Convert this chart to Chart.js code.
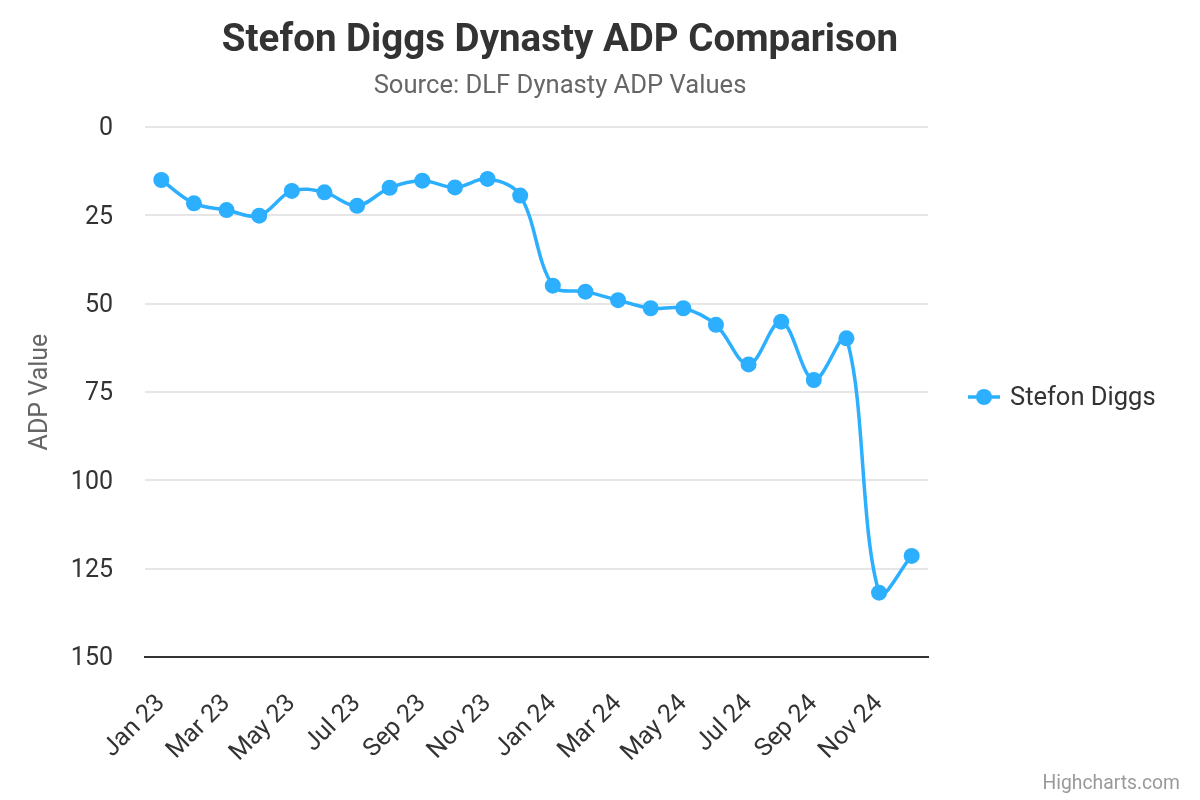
<!DOCTYPE html>
<html>
<head>
<meta charset="utf-8">
<script src="https://cdn.jsdelivr.net/npm/chart.js@4.4.1/dist/chart.umd.min.js"></script>
<style>
  html, body { margin: 0; padding: 0; background: #ffffff; }
  #wrap { width: 1200px; height: 800px; position: relative; }
</style>
</head>
<body>
<div id="wrap"><canvas id="c" width="1200" height="800"></canvas></div>
<script>
const titleText = "Stefon Diggs Dynasty ADP Comparison";
const subtitleText = "Source: DLF Dynasty ADP Values";
const yAxisTitle = "ADP Value";
const seriesName = "Stefon Diggs";
const creditsText = "Highcharts.com";

const categories = [
  "Jan 23","Feb 23","Mar 23","Apr 23","May 23","Jun 23","Jul 23","Aug 23","Sep 23","Oct 23","Nov 23","Dec 23",
  "Jan 24","Feb 24","Mar 24","Apr 24","May 24","Jun 24","Jul 24","Aug 24","Sep 24","Oct 24","Nov 24","Dec 24"
];
const adpValues = [
  15.0, 21.6, 23.5, 25.1, 18.1, 18.5, 22.3, 17.2, 15.2, 17.1, 14.7, 19.4,
  44.9, 46.6, 49.0, 51.3, 51.3, 56.0, 67.2, 55.1, 71.6, 59.8, 131.8, 121.4
];
const yTicks = [0, 25, 50, 75, 100, 125, 150];

const FONT = "Roboto, 'Noto Sans', sans-serif";
const BLUE = "#2caffe";

const decorPlugin = {
  id: 'decor',
  afterDraw(chart) {
    const ctx = chart.ctx;
    ctx.save();
    // Title
    ctx.fillStyle = '#333333';
    ctx.textAlign = 'center';
    ctx.textBaseline = 'middle';
    ctx.font = "bold 38.5px " + FONT;
    ctx.fillText(titleText, 560, 41);
    // Subtitle
    ctx.fillStyle = '#666666';
    ctx.font = "25.6px " + FONT;
    ctx.fillText(subtitleText, 560, 87);
    // Legend
    const ly = 397;
    ctx.strokeStyle = BLUE;
    ctx.lineWidth = 3.5;
    ctx.beginPath();
    ctx.moveTo(968, ly);
    ctx.lineTo(1000, ly);
    ctx.stroke();
    ctx.fillStyle = BLUE;
    ctx.beginPath();
    ctx.arc(984, ly, 8, 0, Math.PI * 2);
    ctx.fill();
    ctx.fillStyle = '#333333';
    ctx.textAlign = 'left';
    ctx.font = "25.5px " + FONT;
    ctx.fillText(seriesName, 1010, ly + 2);
    // Credits
    ctx.fillStyle = '#999999';
    ctx.textAlign = 'right';
    ctx.font = "19.3px " + FONT;
    ctx.fillText(creditsText, 1180, 784);
    ctx.restore();
  }
};

new Chart(document.getElementById('c'), {
  type: 'line',
  data: {
    labels: categories,
    datasets: [{
      label: seriesName,
      data: adpValues,
      borderColor: BLUE,
      backgroundColor: BLUE,
      borderWidth: 3.5,
      pointRadius: 8,
      pointHoverRadius: 8,
      pointBackgroundColor: BLUE,
      pointBorderWidth: 0,
      tension: 0.35,
      fill: false
    }]
  },
  options: {
    responsive: false,
    animation: false,
    devicePixelRatio: 1,
    layout: { padding: { top: 127, right: 272, bottom: 0, left: 0 } },
    plugins: {
      legend: { display: false },
      title: { display: false },
      tooltip: { enabled: false }
    },
    scales: {
      x: {
        type: 'category',
        offset: true,
        grid: { display: false, drawTicks: false },
        border: { display: true, color: '#333333', width: 2 },
        ticks: {
          autoSkip: false,
          maxRotation: 45,
          minRotation: 45,
          padding: 32,
          color: '#333333',
          font: { family: FONT, size: 25 },
          callback: function(value, index) { return index % 2 === 0 ? categories[index] : null; }
        },
        afterFit(scale) { scale.height = 143; }
      },
      y: {
        reverse: true,
        min: 0,
        max: 150,
        afterBuildTicks(scale) { scale.ticks = yTicks.map(v => ({ value: v })); },
        grid: {
          drawTicks: false,
          lineWidth: 2,
          color: (c) => c.tick && c.tick.value === 150 ? 'rgba(0,0,0,0)' : '#e6e6e6'
        },
        border: { display: false },
        ticks: {
          padding: 32,
          labelOffset: 2,
          color: '#333333',
          font: { family: FONT, size: 25 }
        },
        title: {
          display: true,
          text: yAxisTitle,
          color: '#666666',
          font: { family: FONT, size: 25 },
          padding: { top: 26, bottom: 0 }
        },
        afterFit(scale) { scale.width = 145; }
      }
    }
  },
  plugins: [decorPlugin]
});
</script>
</body>
</html>
